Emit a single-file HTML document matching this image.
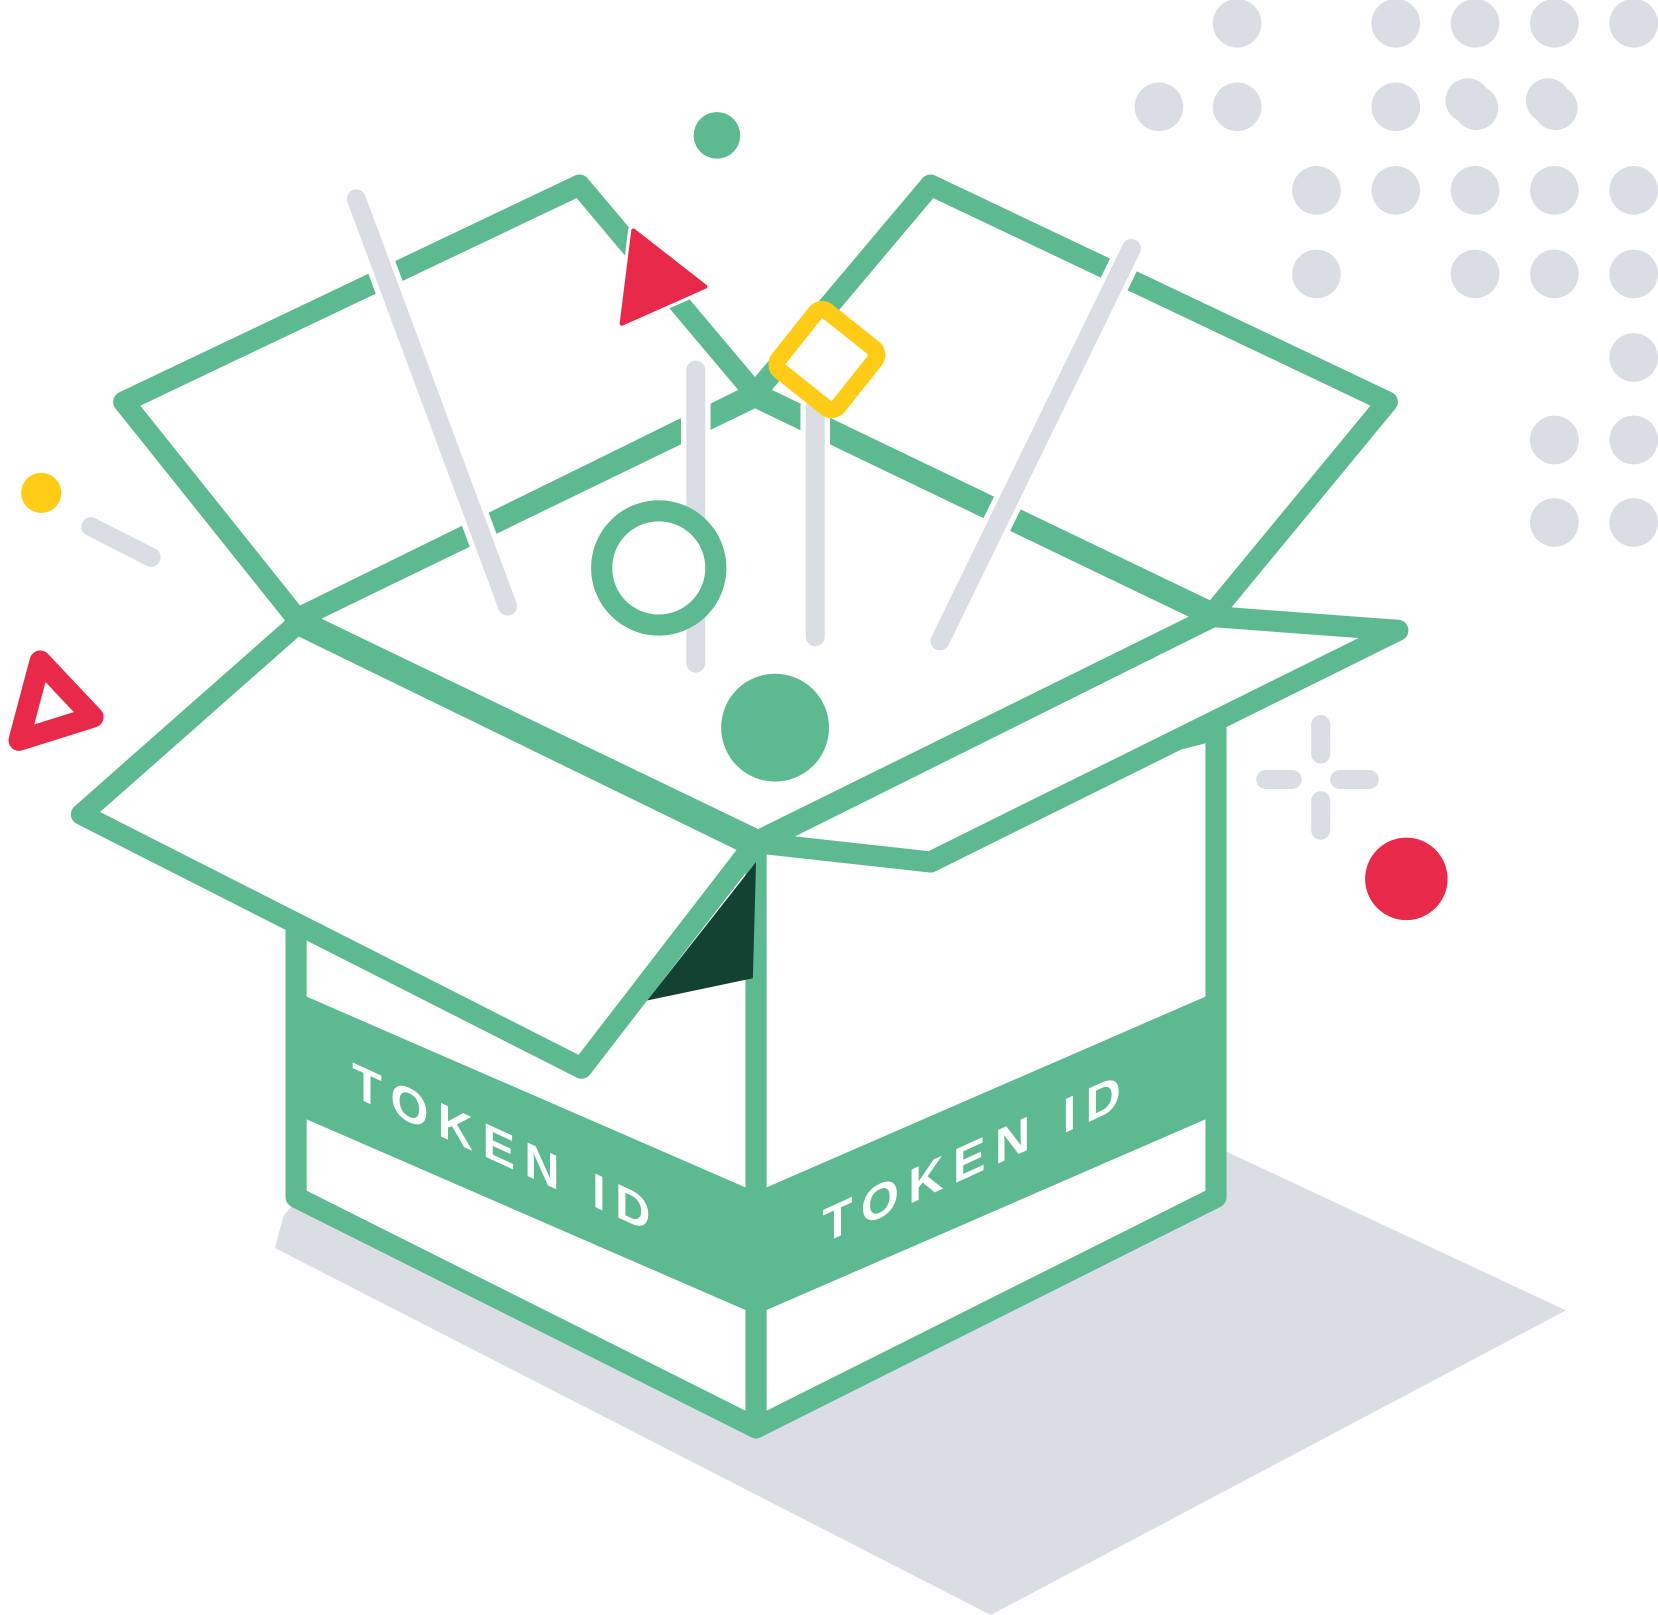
<!DOCTYPE html>
<html><head><meta charset="utf-8"><style>html,body{margin:0;padding:0;background:#fff}svg{display:block}</style></head>
<body>
<svg width="1658" height="1615" viewBox="0 0 1568 1527" preserveAspectRatio="none" xmlns="http://www.w3.org/2000/svg">
<g fill="#dadde4">
<circle cx="1170" cy="22" r="23"/><circle cx="1320" cy="22" r="23"/><circle cx="1395" cy="22" r="23"/><circle cx="1470" cy="22" r="23"/><circle cx="1545" cy="22" r="23"/>
<circle cx="1096" cy="101" r="23"/><circle cx="1170" cy="101" r="23"/><circle cx="1320" cy="101" r="23"/>
<circle cx="1388" cy="95" r="21"/><circle cx="1396" cy="102" r="21"/><circle cx="1464" cy="95" r="21"/><circle cx="1471" cy="102" r="21"/>
<circle cx="1245" cy="180" r="23"/><circle cx="1320" cy="180" r="23"/><circle cx="1395" cy="180" r="23"/><circle cx="1470" cy="180" r="23"/><circle cx="1545" cy="180" r="23"/>
<circle cx="1245" cy="259" r="23"/><circle cx="1395" cy="259" r="23"/><circle cx="1470" cy="259" r="23"/><circle cx="1545" cy="259" r="23"/>
<circle cx="1545" cy="338" r="23"/><circle cx="1470" cy="416" r="23"/><circle cx="1545" cy="416" r="23"/><circle cx="1470" cy="494" r="23"/><circle cx="1545" cy="494" r="23"/>
<polygon points="260,1180 268,1150 280,1135 715,1350 1158,1130 1158,1088 1481,1239 937,1527"/>
</g>
<g stroke="#dadde4" stroke-width="18" stroke-linecap="round" fill="none">
<line x1="86" y1="498" x2="143" y2="527"/>
<line x1="1249" y1="685" x2="1249" y2="713"/><line x1="1249" y1="757" x2="1249" y2="785"/>
<line x1="1197" y1="737" x2="1222" y2="737"/><line x1="1267" y1="737" x2="1295" y2="737"/>
</g>
<g stroke="#5db990" stroke-width="20" stroke-linejoin="round" fill="#fff">
<polygon points="280,880 280,1132 715,1350 715,800"/>
<polygon points="715,800 715,1350 1150,1132 1150,690"/>
</g>
<g fill="#5db990">
<polygon points="280,938 715,1127 715,1243 280,1054"/>
<polygon points="715,1127 1150,938 1150,1054 715,1243"/>
</g>
<g font-family="Liberation Sans, sans-serif" font-weight="bold" font-size="46" fill="#fff" letter-spacing="9">
<text transform="translate(333,1036) skewY(24.6)">TOKEN ID</text>
<text transform="translate(778,1176) skewY(-24.6)">TOKEN ID</text>
</g>
<g stroke="#5db990" stroke-width="20" stroke-linejoin="round" fill="#fff">
<polygon points="281,585 714,375 1147,583 717,795"/>
<polygon points="281,585 117,380 548,175 714,372"/>
<polygon points="714,372 880,175 1312,380 1147,580"/>
<polygon points="717,797 1147,583 1322,596 880,815"/>
<polygon points="281,590 77,770 550,1010 712,800"/>
</g>
<polygon points="612,946 715,815 712,925" fill="#134232"/>
<g stroke-linecap="round" fill="none">
<g stroke="#fff" stroke-width="28">
<line x1="337" y1="188" x2="480" y2="573"/><line x1="658" y1="350" x2="658" y2="627"/><line x1="771" y1="385" x2="771" y2="602"/><line x1="1070" y1="235" x2="889" y2="606"/>
</g>
<g stroke="#dadde4" stroke-width="18">
<line x1="337" y1="188" x2="480" y2="573"/><line x1="658" y1="350" x2="658" y2="627"/><line x1="771" y1="385" x2="771" y2="602"/><line x1="1070" y1="235" x2="889" y2="606"/>
</g>
</g>
<circle cx="678" cy="128" r="22" fill="#5db990"/>
<circle cx="623" cy="537" r="54" fill="#fff" stroke="#5db990" stroke-width="20"/>
<circle cx="733" cy="688" r="51" fill="#5db990"/>
<circle cx="39" cy="466" r="19" fill="#fecc17"/>
<circle cx="1330" cy="831" r="39" fill="#e8294a"/>
<polygon points="38,625 88,678 18,700" fill="none" stroke="#e8294a" stroke-width="20" stroke-linejoin="round"/>
<polygon points="599,218 667,271 588,306" fill="#e8294a" stroke="#fff" stroke-width="10" stroke-linejoin="round"/>
<polygon points="599,218 667,271 588,306" fill="#e8294a" stroke="#e8294a" stroke-width="4" stroke-linejoin="round"/>
<rect x="746" y="304" width="72" height="72" rx="8" transform="rotate(38.5 782 340)" fill="#fff" stroke="#fecc17" stroke-width="16"/>
</svg>
</body></html>
